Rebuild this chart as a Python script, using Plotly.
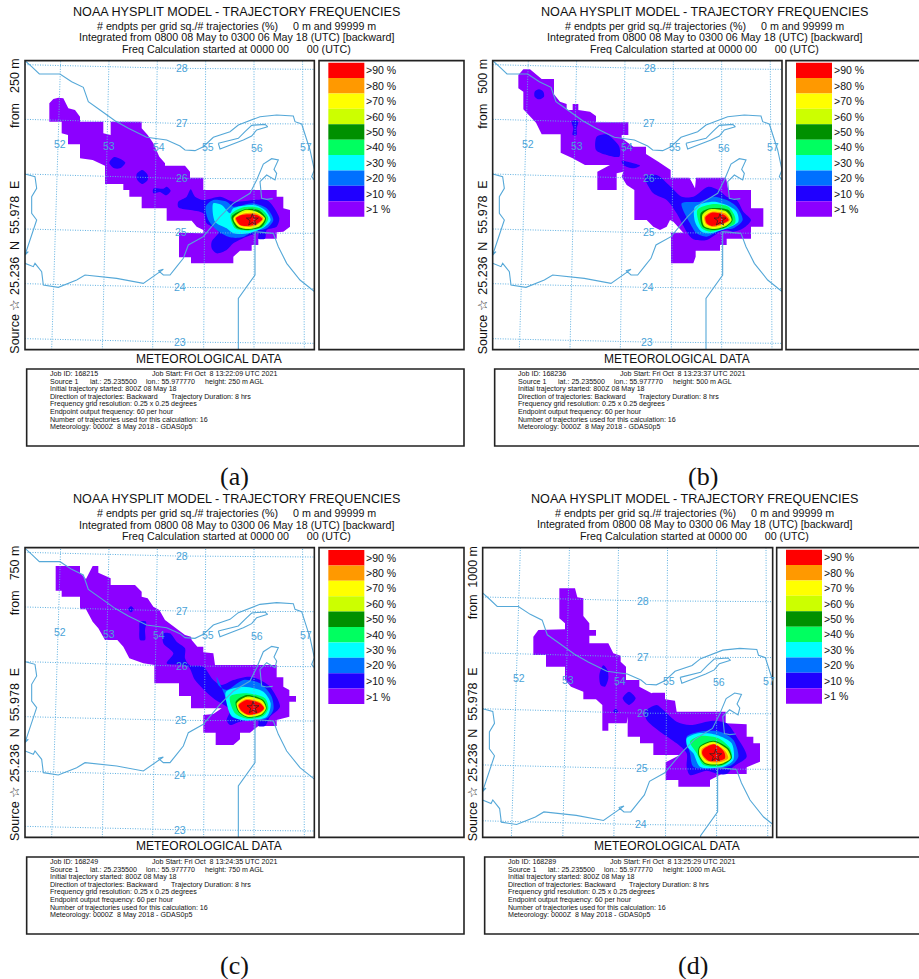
import plotly.graph_objects as go

W, H = 919, 979
LEVEL_LABELS = [">90 %", ">80 %", ">70 %", ">60 %", ">50 %", ">40 %", ">30 %", ">20 %", ">10 %", ">1 %"]
LEVEL_COLORS = ["#ff0000", "#ff9900", "#ffff00", "#ccff00", "#009000", "#00ff60", "#00ffff", "#0070ff", "#2000ff", "#8c00ff"]
HEIGHTS = ["250 m", "500 m", "750 m", "1000 m"]
JOB_IDS = ["168215", "168236", "168249", "168289"]
JOB_TIMES = ["13:22:09", "13:23:37", "13:24:35", "13:25:29"]
CAPTIONS = ["(a)", "(b)", "(c)", "(d)"]

# graticule and coast
LON_LABELS = ["52", "53", "54", "55", "56", "57"]
LON_TOP = [186, 330, 474, 618, 762, 907]
LON_BOTTOM = [155, 307, 458, 611, 762, 913]
LON_Y = [49, 1049]
LON_LABEL_X = [181, 327, 477, 623, 770, 917]
LON_LABEL_Y = [433, 438, 441, 442, 444, 441]
LAT_LABELS = ["28", "27", "26", "25", "24", "23"]
LAT_LEFT = [194, 358, 522, 687, 851, 1016]
LAT_MID = [205, 370, 535, 698, 862, 1026]
LAT_RIGHT = [208, 372, 537, 700, 866, 1030]
LAT_LABEL_X = [547, 545, 545, 543, 541, 539]
LAT_LABEL_Y = [205, 369, 534, 697, 861, 1026]

COASTS = [
    [(65,170),(75,182),(95,200),(118,222),(180,222),(215,245),(250,262),(265,305),(300,330),(345,362),(385,385),(405,395),(440,412),(500,420),(540,438),(555,450),(585,452),(610,440),(640,412),(690,395),(715,375),(780,350),(830,345),(880,348),(885,365),(905,372),(915,405),(930,450),(943,510),(935,530),(943,540)],
    [(655,430),(660,447),(730,420),(755,408),(770,390),(803,380),(795,373),(755,376),(735,395),(715,415),(655,430)],
    [(1000,920),(943,875),(900,840),(860,790),(835,740),(820,700)],
    [(818,596),(800,598),(785,595),(780,545),(800,525),(825,540),(830,520),(822,508),(835,480),(815,476),(790,492),(770,540),(750,580),(700,610),(660,650),(610,710),(565,735),(550,775),(530,800),(510,825),(490,825),(475,812),(490,808),(430,850),(350,835),(255,825),(230,840),(175,862),(130,855),(125,815),(105,790),(100,800),(75,790),(60,785)],
    [(820,700),(765,695),(765,825),(715,895),(715,1060)],
    [(60,522),(75,522),(105,530),(110,565),(95,590),(95,640),(110,660),(90,720),(75,765),(85,755),(60,770)],
]

# plume regions per panel, lowest level first
PLUME_A = [
    [[(175,293),(190,295),(205,325),(225,330),(240,350),(240,365),(310,365),(310,400),(332,405),(332,365),(425,365),(425,385),(443,405),(460,430),(478,470),(495,490),(495,497),(555,497),(570,515),(570,533),(610,533),(610,570),(830,570),(830,590),(850,590),(850,625),(870,630),(870,680),(850,695),(830,697),(830,716),(775,716),(775,735),(755,735),(755,752),(720,752),(700,770),(700,790),(573,790),(573,772),(537,772),(537,698),(610,700),(610,690),(590,680),(575,662),(500,662),(500,625),(425,625),(425,590),(388,590),(388,570),(370,570),(370,552),(315,552),(315,497),(278,480),(240,475),(240,433),(204,433),(204,405),(185,400),(185,365),(148,365),(148,310),(160,297)]],
    [[(343,471),(360,476),(376,488),(360,505),(343,505),(328,488)],[(427,510),(443,525),(443,540),(427,552),(412,540),(410,522)],[(460,566),(490,566),(500,560),(512,572),(498,586),(480,576),(460,580)],
     [(535,605),(560,590),(572,568),(585,590),(610,600),(660,590),(700,605),(800,600),(820,620),(838,655),(830,680),(800,690),(795,716),(775,716),(775,700),(740,710),(700,730),(680,750),(650,760),(635,745),(635,725),(655,700),(655,690),(620,670),(610,640),(535,622)]],
    [[(617,620),(640,600),(680,605),(700,620),(760,610),(800,625),(820,660),(800,685),(760,695),(725,712),(690,712),(650,690),(625,660)]],
    [[(640,610),(665,615),(690,640),(700,625),(760,615),(795,630),(812,660),(795,680),(745,700),(700,700),(680,685),(645,665)]],
    [[(692,645),(730,622),(780,625),(805,655),(790,680),(745,692),(705,685)]],
    [[(695,650),(735,628),(775,630),(798,655),(785,680),(745,690),(710,683)]],
    [[(700,655),(735,630),(770,635),(795,655),(780,678),(745,687),(715,680)]],
    [[(702,655),(735,635),(770,637),(792,655),(778,675),(745,684),(715,677)]],
    [[(705,655),(735,640),(768,640),(790,655),(775,673),(745,681),(718,675)]],
    [[(708,655),(725,645),(770,645),(787,657),(770,672),(740,678),(720,675)]],
]
PLUME_B = [
    [[(190,208),(210,208),(245,237),(282,237),(282,283),(300,305),(320,312),(320,330),(338,330),(338,312),(355,312),(355,330),(390,335),(408,348),(408,367),(505,367),(505,405),(485,405),(485,415),(520,440),(558,440),(558,462),(595,485),(632,510),(632,533),(688,533),(695,545),(705,565),(708,533),(798,533),(805,570),(873,570),(873,625),(910,625),(910,680),(873,680),(873,716),(800,716),(800,735),(780,735),(780,752),(707,752),(707,770),(700,790),(633,790),(633,698),(670,698),(640,665),(630,660),(620,680),(600,690),(580,680),(560,660),(523,660),(523,570),(500,555),(485,530),(490,515),(470,520),(470,570),(412,570),(412,515),(450,495),(375,495),(338,475),(302,458),(302,403),(245,403),(228,368),(190,328),(190,275),(175,265),(175,225)]],
    [[(237,268),(250,275),(252,290),(237,298),(224,290),(224,275)],[(335,363),(355,363),(350,385),(350,405),(338,405),(340,385)],[(410,410),(440,403),(462,420),(478,440),(478,470),(440,465),(408,450)],[(485,483),(520,490),(540,497),(520,505),(490,495)],
     [(555,530),(590,525),(632,560),(665,590),(700,590),(745,560),(775,570),(800,590),(830,600),(850,635),(873,660),(850,685),(820,695),(800,690),(780,695),(740,720),(700,718),(680,695),(650,640),(620,600),(580,580)]],
    [[(665,610),(720,605),(760,590),(800,600),(830,620),(848,660),(820,685),(780,690),(740,710),(710,700),(690,670)]],
    [[(705,620),(760,605),(800,615),(830,635),(835,665),(800,685),(750,700),(725,695),(705,665)]],
    [[(712,630),(760,612),(805,620),(825,650),(825,670),(795,685),(750,695),(725,685)]],
    [[(722,640),(750,625),(805,630),(818,660),(800,680),(760,690),(728,680)]],
    [[(727,645),(750,628),(800,635),(815,660),(798,678),(760,687),(732,678)]],
    [[(730,648),(752,632),(798,638),(812,660),(795,675),(760,684),(735,675)]],
    [[(733,650),(755,635),(795,640),(810,660),(792,672),(760,681),(738,672)]],
    [[(736,652),(755,638),(793,645),(806,660),(790,670),(755,678),(740,670)]],
]
PLUME_C = [
    [[(167,228),(240,228),(240,248),(258,267),(278,228),(295,228),(295,248),(332,265),(332,285),(405,285),(425,305),(425,320),(443,325),(460,350),(478,360),(495,390),(515,405),(535,420),(555,435),(573,440),(575,450),(592,470),(610,470),(610,487),(640,490),(645,525),(830,525),(830,562),(850,562),(850,590),(868,600),(868,618),(888,618),(888,635),(868,635),(868,680),(830,690),(830,708),(775,708),(750,728),(720,728),(720,748),(700,765),(647,765),(647,728),(610,728),(610,675),(640,672),(665,655),(573,655),(573,618),(537,618),(537,580),(463,580),(463,525),(430,520),(388,505),(370,470),(352,450),(315,450),(295,415),(278,395),(258,358),(240,358),(240,320),(185,320),(185,302),(167,302)]],
    [[(393,349),(402,358),(393,367),(384,358)],[(420,395),(438,395),(435,420),(435,450),(420,450),(418,420)],
     [(490,430),(510,430),(530,455),(555,475),(555,505),(568,525),(610,530),(640,570),(665,585),(700,570),(750,560),(790,575),(810,590),(840,650),(810,680),(795,708),(775,708),(775,695),(720,695),(690,705),(680,690),(690,660),(640,625),(585,570),(565,530),(500,520),(520,490),(490,460)]],
    [[(650,560),(655,585),(680,600),(730,570),(780,580),(815,620),(820,660),(800,685),(740,690),(695,680),(680,630)]],
    [[(678,605),(730,590),(790,605),(812,640),(800,680),(740,692),(695,678),(680,640)]],
    [[(690,620),(740,610),(795,625),(805,655),(790,678),(740,686),(705,670)]],
    [[(707,635),(740,615),(790,630),(800,655),(787,675),(745,683),(715,665)]],
    [[(710,640),(740,620),(787,632),(798,655),(785,673),(745,681),(718,665)]],
    [[(712,642),(740,624),(785,635),(796,655),(783,671),(745,678),(720,665)]],
    [[(714,644),(740,627),(783,638),(794,655),(781,669),(745,676),(722,664)]],
    [[(716,646),(740,630),(780,640),(792,655),(780,667),(745,674),(725,663)]],
]
PLUME_D = [
    [[(298,295),(345,295),(352,322),(370,325),(370,378),(388,400),(388,420),(408,420),(408,437),(388,437),(388,460),(445,460),(460,490),(482,497),(482,515),(498,530),(498,570),(538,570),(538,590),(575,610),(578,608),(615,608),(615,628),(645,632),(650,665),(797,665),(797,700),(860,703),(860,740),(880,740),(880,760),(900,760),(900,815),(860,832),(860,852),(785,852),(750,870),(750,890),(655,890),(655,870),(617,870),(617,817),(660,795),(580,795),(580,760),(540,760),(540,740),(503,740),(503,680),(500,700),(445,700),(445,722),(427,722),(427,645),(408,628),(370,628),(370,605),(333,590),(315,570),(315,530),(258,530),(258,495),(220,495),(220,440),(235,420),(315,418),(315,400),(298,385)]],
    [[(430,526),(442,540),(445,565),(435,590),(422,585),(418,555)],[(507,605),(527,625),(507,645),(488,625)],[(467,656),(474,663),(467,670),(460,663)],
     [(555,665),(590,645),(610,660),(650,695),(690,705),(760,692),(800,700),(830,740),(860,800),(820,830),(800,852),(775,852),(740,842),(690,855),(680,830),(680,790),(650,760),(600,725),(560,690)]],
    [[(680,740),(720,725),(780,725),(820,750),(835,800),(815,825),(770,835),(700,830),(690,790)]],
    [[(680,745),(715,730),(770,735),(815,760),(820,810),(790,830),(720,830),(700,790),(682,770)]],
    [[(690,755),(720,738),(775,745),(810,775),(815,805),(785,828),(730,825),(710,790)]],
    [[(718,770),(760,752),(805,775),(815,805),(785,825),(735,822),(715,795)]],
    [[(720,772),(760,755),(802,778),(812,805),(783,822),(737,820),(718,795)]],
    [[(722,775),(760,758),(798,780),(808,805),(781,820),(740,817),(722,795)]],
    [[(725,777),(760,761),(795,782),(805,805),(779,817),(742,814),(725,795)]],
    [[(728,780),(762,763),(792,785),(795,805),(775,813),(745,812),(727,793)]],
]
PLUMES = [PLUME_A, PLUME_B, PLUME_C, PLUME_D]
STARS = [(757, 660), (780, 660), (759, 653), (767, 797)]

# layout of each panel, in units of one third of a pixel from the panel origin
ORIGINS = [(0, 0), (460, 0), (0, 490), (460, 490)]
MAP_FRAMES = [(75, 943, 182, 1049), (98, 966, 182, 1049), (75, 943, 173, 1042), (68, 938, 173, 1042)]
LEGEND_LEFT = [957, 978, 957, 950]
SHIFTS = [(0, 0), (23, 0), (0, -8), (-7, -9)]
INFO_BOXES = [(80, 1392, 1107, 1338), (104, 1400, 1107, 1338), (80, 1392, 1101, 1332), (74, 1400, 1101, 1332)]
CAPTION_POS = [(235, 476), (703, 476), (235, 965), (693, 965)]
FROM_Y = [348, 348, 348, 359]
# map transform for the coast and graticule: x' = x0 + (x - 770) * s, y' = y0 + (y - 697) * s
MAP_TF = [(770, 697, 1.0), (793, 697, 1.0), (770, 690, 1.0), (778, 835, 1.022)]

GRID = "#5fb0e0"
COAST = "#55a8d8"
LABEL = "#4aa3d8"
INK = "#222222"
FONT = "Liberation Sans"

fig = go.Figure()
ann, shp = [], []


def tx(p, x):
    return (ORIGINS[p][0] + x / 3) / W


def ty(p, y):
    return 1 - (ORIGINS[p][1] + y / 3) / H


def label(p, x, y, text, size, color="#111111", anchor="center", angle=0, family=FONT):
    ann.append(dict(x=tx(p, x), y=ty(p, y), xref="paper", yref="paper", text=text, showarrow=False,
                    xanchor=anchor, yanchor="middle", textangle=angle, borderpad=0,
                    font=dict(family=family, size=size, color=color)))


def rect(p, x0, x1, y0, y1, line=None, fill=None, width=1.6):
    shp.append(dict(type="rect", xref="paper", yref="paper", x0=tx(p, x0), x1=tx(p, x1), y0=ty(p, y1), y1=ty(p, y0),
                    line=dict(color=line or "rgba(0,0,0,0)", width=width if line else 0),
                    fillcolor=fill or "rgba(0,0,0,0)", layer="above" if fill is None else "below"))


layout_axes = {}
for p in range(4):
    L, R, T, B = MAP_FRAMES[p]
    sx, sy = SHIFTS[p]
    suffix = "" if p == 0 else str(p + 1)
    xa, ya = "x" + suffix, "y" + suffix
    layout_axes["xaxis" + suffix] = dict(domain=[tx(p, L), tx(p, R)], range=[L, R], visible=False, anchor=ya, fixedrange=True)
    layout_axes["yaxis" + suffix] = dict(domain=[ty(p, B), ty(p, T)], range=[B, T], visible=False, anchor=xa, fixedrange=True)

    for level, regions in enumerate(PLUMES[p]):
        xs, ys = [], []
        for poly in regions:
            xs += [q[0] for q in poly] + [poly[0][0], None]
            ys += [q[1] for q in poly] + [poly[0][1], None]
        shape = dict(width=0) if level == 0 else dict(width=0, shape="spline", smoothing=0.8)
        fig.add_trace(go.Scatter(x=xs, y=ys, xaxis=xa, yaxis=ya, mode="lines", fill="toself",
                                 fillcolor=LEVEL_COLORS[9 - level], line=shape, hoverinfo="skip", showlegend=False))

    cx, cy, s = MAP_TF[p]
    fx = lambda v: cx + (v - 770) * s
    fy = lambda v: cy + (v - 697) * s
    for i in range(len(LON_LABELS)):
        fig.add_trace(go.Scatter(x=[fx(LON_TOP[i]), fx(LON_BOTTOM[i])], y=[fy(LON_Y[0]), fy(LON_Y[1])], xaxis=xa, yaxis=ya, mode="lines",
                                 line=dict(color=GRID, width=1, dash="1px,1.5px"), hoverinfo="skip", showlegend=False))
        label(p, fx(LON_LABEL_X[i]), fy(LON_LABEL_Y[i]), LON_LABELS[i], 10.5, LABEL)
    for i in range(len(LAT_LABELS)):
        lat_y = fy(LAT_LEFT[i]), fy(LAT_MID[i]), fy(LAT_RIGHT[i])
        if lat_y[1] > B:
            continue
        fig.add_trace(go.Scatter(x=[fx(75), fx(530), fx(943)], y=list(lat_y), xaxis=xa, yaxis=ya, mode="lines",
                                 line=dict(color=GRID, width=1, dash="1px,1.5px"), hoverinfo="skip", showlegend=False))
        label(p, fx(LAT_LABEL_X[i]), fy(LAT_LABEL_Y[i]), LAT_LABELS[i], 10.5, LABEL)
    for line in COASTS:
        fig.add_trace(go.Scatter(x=[fx(q[0]) for q in line], y=[fy(q[1]) for q in line], xaxis=xa, yaxis=ya, mode="lines",
                                 line=dict(color=COAST, width=1.1), hoverinfo="skip", showlegend=False))
    fig.add_trace(go.Scatter(x=[STARS[p][0]], y=[STARS[p][1]], xaxis=xa, yaxis=ya, mode="markers",
                             marker=dict(symbol="star-open", size=9, color="#222222", line=dict(width=0.7, color="#222222")),
                             hoverinfo="skip", showlegend=False))

    # frames
    rect(p, L, R, T, B, line=INK)
    rect(p, LEGEND_LEFT[p], 1392 if p in (0, 2) else 1500, T, B, line=INK)
    ib = INFO_BOXES[p]
    rect(p, ib[0], ib[1], ib[2], ib[3], line=INK)

    # header
    label(p, 710 + sx, 36 + sy, "NOAA HYSPLIT MODEL - TRAJECTORY FREQUENCIES", 12.6)
    label(p, 711 + sx, 78 + sy, "# endpts per grid sq./# trajectories (%)\u00a0\u00a0\u00a0\u00a0 0 m and 99999 m", 10.7)
    label(p, 711 + sx, 112 + sy, "Integrated from 0800 08 May to 0300 06 May 18 (UTC) [backward]", 10.7)
    label(p, 711 + sx, 147 + sy, "Freq Calculation started at 0000 00\u00a0\u00a0\u00a0\u00a0\u00a0 00 (UTC)", 10.7)
    label(p, 627 + sx, 1077 + sy, "METEOROLOGICAL DATA", 12)

    # side text
    side = [("Source \u2606", 980), ("25.236", 828), ("N", 738), ("55.978", 645), ("E", 555), ("from", FROM_Y[p]), (HEIGHTS[p], 228 if p != 3 else 240)]
    for text, y in side:
        label(p, 45 + sx, y + sy, text, 12.5, angle=-90)

    # legend
    top = 188 + sy
    for i, (name, color) in enumerate(zip(LEVEL_LABELS, LEVEL_COLORS)):
        rect(p, 985 + sx, 1093 + sx, top + i * 46.2, top + (i + 1) * 46.2, fill=color)
        label(p, 1095 + sx, top + 23 + i * 46.2 + (1 if i == 9 else 0), name, 10.5, anchor="left")

    # job text
    x0 = 147 + sx
    y0 = ib[2] + 15
    rows = [
        [(0, "Job ID: " + JOB_IDS[p]), (306, "Job Start: Fri Oct\u00a0 8 " + JOB_TIMES[p] + " UTC 2021")],
        [(0, "Source 1"), (121, "lat.: 25.235500"), (288, "lon.: 55.977770"), (465, "height: " + HEIGHTS[p] + " AGL")],
        [(0, "Initial trajectory started: 800Z 08 May 18")],
        [(0, "Direction of trajectories: Backward"), (363, "Trajectory Duration: 8 hrs")],
        [(0, "Frequency grid resolution: 0.25 x 0.25 degrees")],
        [(0, "Endpoint output frequency: 60 per hour")],
        [(0, "Number of trajectories used for this calculation: 16")],
        [(0, "Meteorology: 0000Z\u00a0 8 May 2018 - GDAS0p5")],
    ]
    for r, row in enumerate(rows):
        for off, text in row:
            label(p, x0 + off, y0 + r * 22.8, text, 7.1, anchor="left")

for p, (cx_, cy_) in enumerate(CAPTION_POS):
    ann.append(dict(x=cx_ / W, y=1 - cy_ / H, xref="paper", yref="paper", text=CAPTIONS[p], showarrow=False,
                    xanchor="center", yanchor="middle",
                    font=dict(family="Liberation Serif", size=26, color="#111111")))

fig.update_layout(width=W, height=H, margin=dict(l=0, r=0, t=0, b=0), paper_bgcolor="white", plot_bgcolor="white",
                  annotations=ann, shapes=shp, showlegend=False, **layout_axes)
fig.write_html("out.html", config={"displayModeBar": False},
               post_script="document.body.style.margin='0';document.body.style.overflow='hidden';")
